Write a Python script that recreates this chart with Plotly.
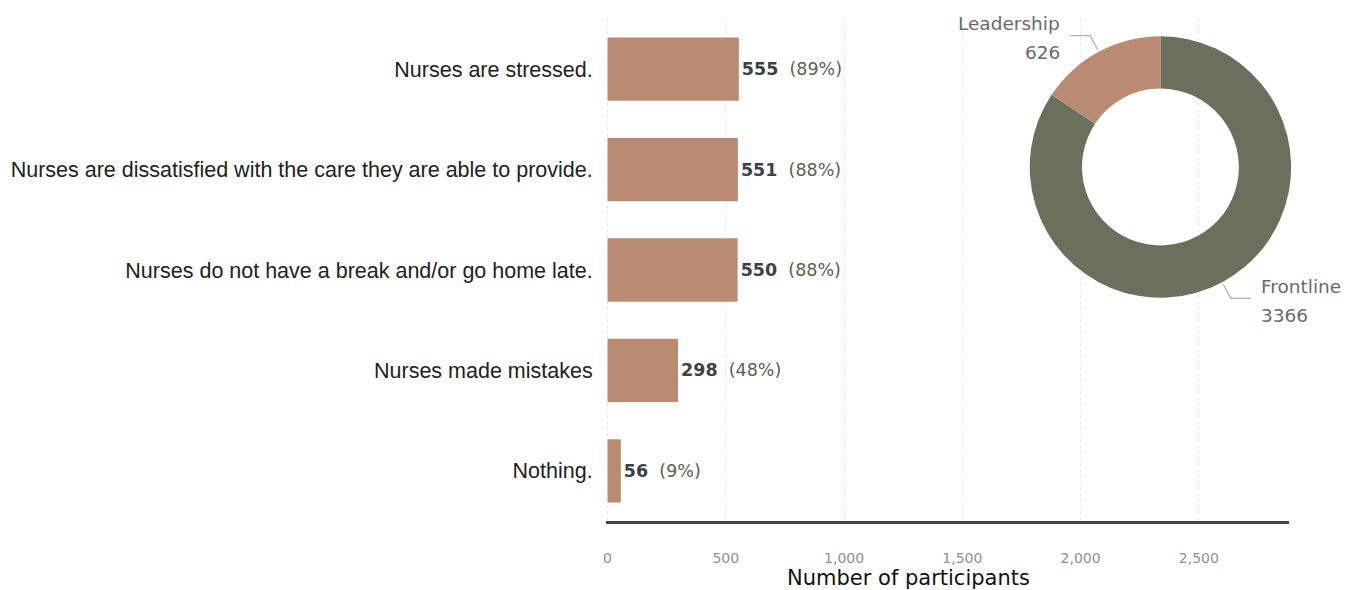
import math
import plotly.graph_objects as go

# Survey responses (count of participants per statement)
statements = [
    "Nurses are stressed.",
    "Nurses are dissatisfied with the care they are able to provide.",
    "Nurses do not have a break and/or go home late.",
    "Nurses made mistakes",
    "Nothing.",
]
counts = [555, 551, 550, 298, 56]
percents = [89, 88, 88, 48, 9]

# Participant roles (listed in clockwise order from 12 o'clock)
roles = ["Frontline", "Leadership"]
role_counts = [3366, 626]
role_colors = ["#6B705C", "#B98B73"]

x_ticks = [0, 500, 1000, 1500, 2000, 2500]

W, H = 1367, 590
BAR_COLOR = "#B98B73"
SANS = "DejaVu Sans"


def px(x):
    return x / W


def py(y):
    return 1 - y / H


fig = go.Figure()

fig.add_trace(go.Bar(
    y=statements,
    x=counts,
    orientation="h",
    marker=dict(color=BAR_COLOR, line=dict(width=0)),
    width=0.63,
    text=[f"<b>{c}</b>&nbsp; <span style='color:#5f604f'>({p}%)</span>"
          for c, p in zip(counts, percents)],
    textposition="outside",
    constraintext="none",
    cliponaxis=False,
    textfont=dict(family=SANS, size=17.5, color="#3d4045"),
    hoverinfo="skip",
    showlegend=False,
))

# Donut of participant roles
pie_cx, pie_cy, pie_r = 1160, 167, 131
fig.add_trace(go.Pie(
    labels=roles,
    values=role_counts,
    hole=0.6,
    sort=False,
    direction="clockwise",
    rotation=0,
    marker=dict(colors=role_colors, line=dict(width=0)),
    textinfo="none",
    hoverinfo="skip",
    showlegend=False,
    domain=dict(x=[px(pie_cx - pie_r), px(pie_cx + pie_r)],
                y=[py(pie_cy + pie_r), py(pie_cy - pie_r)]),
))

# Outside labels with leader lines at each slice's mid-angle
# (angle measured clockwise from 12 o'clock)
total = sum(role_counts)
start = 0.0
shapes = []
annotations = []
for name, val in zip(roles, role_counts):
    sweep = 360.0 * val / total
    mid = math.radians(start + sweep / 2)
    start += sweep
    sx, sy = math.sin(mid), -math.cos(mid)
    ax = pie_cx + (pie_r + 2) * sx
    ay = pie_cy + (pie_r + 2) * sy
    ex = pie_cx + (pie_r + 18) * sx
    ey = pie_cy + (pie_r + 18) * sy
    side = 1 if sx >= 0 else -1
    hx = ex + side * 20
    path = f"M {px(ax)} {py(ay)} L {px(ex)} {py(ey)} L {px(hx)} {py(ey)}"
    shapes.append(dict(type="path", xref="paper", yref="paper", path=path,
                       line=dict(color="#b0b0b0", width=1.3)))
    for txt, dy in ((name, -12), (str(val), 17)):
        annotations.append(dict(
            xref="paper", yref="paper",
            x=px(hx + side * 8), y=py(ey + dy),
            text=txt,
            showarrow=False,
            xanchor="left" if side > 0 else "right",
            yanchor="middle",
            font=dict(family=SANS, size=18.5, color="#6a6a6a"),
        ))

annotations.append(dict(
    xref="paper", yref="paper", x=px(907), y=py(578),
    text="Number of participants", showarrow=False,
    xanchor="center", yanchor="middle",
    font=dict(family=SANS, size=21, color="#111111"),
))

fig.update_layout(
    width=W, height=H,
    margin=dict(l=0, r=0, t=0, b=0),
    paper_bgcolor="white",
    plot_bgcolor="white",
    shapes=shapes,
    annotations=annotations,
    xaxis=dict(
        domain=[px(604), px(1289)],
        range=[-8, 2882],
        tickvals=x_ticks,
        ticktext=[f"{v:,}" for v in x_ticks],
        tickfont=dict(family=SANS, size=14, color="#8f8f8f"),
        ticks="",
        ticklabelstandoff=22,
        showgrid=True,
        gridcolor="#e6e6e6",
        griddash="dot",
        gridwidth=1,
        zeroline=False,
        showline=True,
        linecolor="#444444",
        linewidth=2.5,
        fixedrange=True,
    ),
    yaxis=dict(
        domain=[py(521), py(19)],
        autorange="reversed",
        tickfont=dict(family="Liberation Sans", size=21.5, color="#222222"),
        ticks="",
        ticklabelstandoff=12,
        showgrid=False,
        showline=False,
        fixedrange=True,
    ),
    bargap=0.37,
)

fig.write_html("out.html")
